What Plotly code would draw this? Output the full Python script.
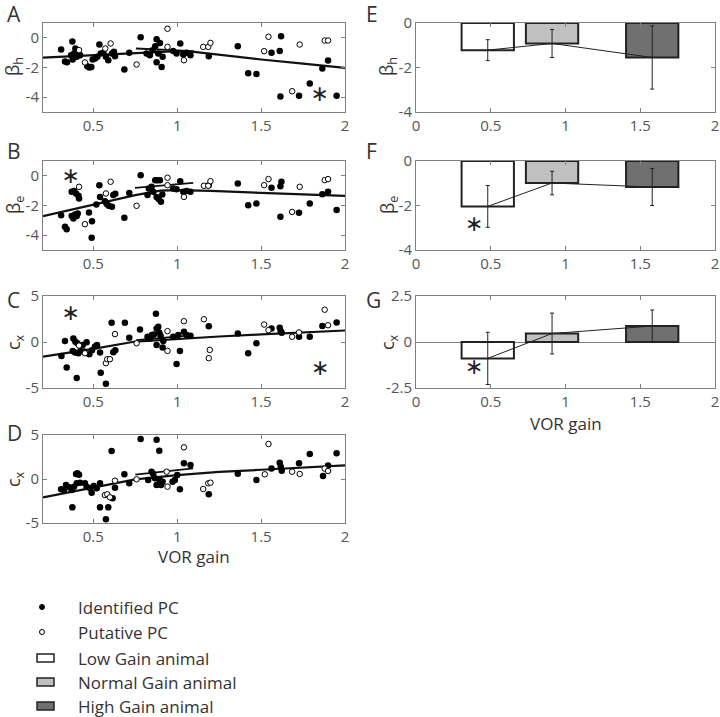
import plotly.graph_objects as go

W, H = 720, 717

# ---------------- data: panel A (beta_h) ----------------
a_id_x = [0.308, 0.331, 0.343, 0.375, 0.367, 0.377, 0.385, 0.393, 0.401, 0.411, 0.421, 0.464, 0.476, 0.488,
          0.496, 0.51, 0.524, 0.536, 0.544, 0.56, 0.575, 0.589, 0.611, 0.623, 0.629, 0.685, 0.714, 0.782,
          0.817, 0.837, 0.853, 0.869, 0.877, 0.887, 0.877, 0.897, 0.907, 0.913, 0.976, 0.996, 1.018, 1.036,
          1.056, 1.079, 1.188, 1.361, 1.423, 1.472, 1.562, 1.611, 1.619, 1.615, 1.726, 1.79, 1.865, 1.899, 1.95]
a_id_y = [-0.79, -1.6, -1.64, -0.25, -1.17, -1.46, -1.06, -0.72, -1.28, -0.94, -1.17, -1.91, -2.0, -1.96,
          -1.46, -1.39, -1.28, -0.45, -1.06, -1.01, -1.28, -1.51, -1.06, -0.94, -1.24, -2.13, -1.01, 0.04,
          -1.06, -1.17, -0.83, -0.56, -0.09, -1.06, -1.64, -0.34, -1.96, -1.28, -0.88, -1.06, -0.38, -1.12,
          -1.01, -1.17, -1.24, -0.56, -2.38, -2.43, -1.01, -0.88, 0.11, -3.96, -3.91, -3.08, -2.07, -1.53, -3.91]
a_pu_x = [0.415, 0.45, 0.571, 0.603, 0.758, 0.942, 0.942, 1.04, 1.155, 1.185, 1.198, 1.518, 1.544, 1.685,
          1.73, 1.879, 1.899]
a_pu_y = [-0.83, -1.66, -0.72, -0.38, -1.8, 0.61, -0.61, -1.51, -0.61, -0.61, -0.34, -0.9, 0.07, -3.6,
          -0.45, -0.18, -0.18]
a_star_x = [1.849]
a_star_y = [-3.87]
a_fit_x = [0.2, 0.5, 0.75, 1.0, 1.1, 1.25, 1.5, 1.75, 2.0]
a_fit_y = [-1.33, -1.17, -1.02, -0.9, -0.95, -1.15, -1.46, -1.74, -2.02]
a_seg_x = [0.754, 1.099]
a_seg_y = [-0.72, -0.9]

# ---------------- data: panel B (beta_e) ----------------
b_id_x = [0.308, 0.331, 0.341, 0.371, 0.385, 0.397, 0.411, 0.415, 0.371, 0.381, 0.391, 0.401, 0.407, 0.474,
          0.492, 0.49, 0.518, 0.536, 0.54, 0.569, 0.579, 0.591, 0.611, 0.619, 0.631, 0.685, 0.714, 0.782,
          0.823, 0.831, 0.847, 0.857, 0.869, 0.881, 0.897, 0.877, 0.889, 0.903, 0.911, 0.976, 0.996, 1.018,
          1.036, 1.056, 1.079, 1.188, 1.361, 1.423, 1.472, 1.562, 1.615, 1.621, 1.615, 1.726, 1.79, 1.865,
          1.899, 1.95]
b_id_y = [-2.65, -3.44, -3.6, -1.08, -1.03, -1.19, -1.35, -1.53, -2.7, -2.88, -2.61, -2.7, -2.54, -2.47,
          -3.06, -4.18, -1.93, -0.63, -1.42, -1.71, -1.89, -2.02, -2.09, -1.3, -1.21, -2.83, -1.15, 0.04,
          -1.3, -0.85, -0.74, -1.08, -0.29, -0.29, -0.29, -1.42, -1.57, -1.75, -1.26, -0.85, -0.9, -0.36,
          -1.08, -1.03, -1.08, -0.63, -0.52, -1.98, -1.87, -0.81, -0.7, -0.4, -2.76, -2.49, -1.87, -1.24,
          -1.08, -2.31]
b_pu_x = [0.415, 0.45, 0.575, 0.603, 0.758, 0.942, 0.942, 1.04, 1.159, 1.185, 1.198, 1.518, 1.544, 1.685,
          1.73, 1.879, 1.899]
b_pu_y = [-0.74, -3.26, -1.19, -0.4, -2.02, -0.13, -0.63, -1.42, -0.67, -0.67, -0.36, -0.63, -0.22, -2.43,
          -0.74, -0.29, -0.22]
b_star_x = [0.365]
b_star_y = [-0.13]
b_fit_x = [0.2, 0.5, 0.75, 0.9, 1.0, 1.2, 1.5, 1.75, 2.0]
b_fit_y = [-2.72, -1.93, -1.3, -1.0, -0.97, -1.02, -1.13, -1.24, -1.35]
b_seg_x = [0.748, 1.095]
b_seg_y = [-0.81, -0.47]

# ---------------- data: panel C (c_x) ----------------
c_id_x = [0.31, 0.331, 0.341, 0.381, 0.393, 0.405, 0.377, 0.391, 0.411, 0.423, 0.437, 0.444, 0.46, 0.476,
          0.492, 0.51, 0.522, 0.54, 0.544, 0.401, 0.575, 0.609, 0.619, 0.631, 0.688, 0.714, 0.778, 0.823,
          0.837, 0.849, 0.861, 0.873, 0.877, 0.887, 0.893, 0.901, 0.877, 0.913, 0.917, 0.976, 0.996, 1.006,
          1.016, 1.04, 1.056, 1.079, 1.188, 1.361, 1.423, 1.472, 1.562, 1.611, 1.617, 1.623, 1.726, 1.79,
          1.865, 1.95]
c_id_y = [-1.51, 0.11, -2.76, 0.39, 0.04, -0.14, -0.97, -1.15, -1.22, -0.97, -0.32, -1.04, -0.04, -1.33,
          -0.9, -0.5, -0.32, -1.15, -3.33, -3.91, -4.55, 2.08, -1.11, -0.9, 2.08, 0.47, 1.37, 0.57,
          0.39, 0.75, 0.82, 3.08, 1.47, 1.65, 1.04, 0.68, -0.32, -0.61, 0.11, 0.57, -2.4, 0.75,
          -0.97, 1.11, 0.75, 0.68, 1.72, 0.93, -1.22, -0.14, 1.47, 1.54, 1.18, 1.0, 0.57, 0.57,
          1.75, 2.11]
c_pu_x = [0.415, 0.45, 0.575, 0.583, 0.599, 0.629, 0.758, 0.942, 0.942, 1.04, 1.159, 1.194, 1.188, 1.518,
          1.544, 1.685, 1.726, 1.879, 1.899]
c_pu_y = [-0.39, -1.22, -2.3, -1.87, -1.87, 0.86, -0.14, 1.18, -0.97, 2.26, 2.47, -0.86, -1.76, 1.9,
          1.29, 0.57, 1.04, 3.51, 1.82]
c_star_x = [0.365, 1.853]
c_star_y = [3.01, -3.01]
c_fit_x = [0.2, 0.5, 0.75, 1.0, 1.25, 1.5, 1.75, 2.0]
c_fit_y = [-1.6, -0.75, 0.05, 0.35, 0.6, 0.82, 1.04, 1.25]
c_seg_x = [0.755, 1.08]
c_seg_y = [0.2, 0.72]

# ---------------- data: panel D (c_x) ----------------
d_id_x = [0.308, 0.325, 0.337, 0.357, 0.371, 0.385, 0.397, 0.405, 0.415, 0.401, 0.421, 0.45, 0.46, 0.48,
          0.49, 0.502, 0.52, 0.54, 0.375, 0.54, 0.589, 0.575, 0.609, 0.615, 0.629, 0.685, 0.714, 0.782,
          0.877, 0.893, 0.827, 0.847, 0.857, 0.867, 0.877, 0.893, 0.903, 0.913, 0.972, 0.986, 1.0, 1.016,
          1.04, 1.079, 1.188, 1.361, 1.472, 1.562, 1.611, 1.617, 1.623, 1.726, 1.79, 1.869, 1.899, 1.95]
d_id_y = [-1.17, -1.25, -0.68, -0.95, -1.25, -0.87, 0.57, 0.64, 0.49, -0.49, -0.42, -0.49, -0.87, -1.06,
          -1.55, -0.8, -1.06, -0.49, -3.22, -3.22, -3.22, -4.58, 3.18, -2.2, -0.99, 0.53, -0.49, 4.55,
          4.47, 3.22, -0.11, 0.83, 0.57, 0.08, -0.68, -0.04, -0.68, -0.3, -0.3, -0.11, 0.45, -1.17,
          1.78, 1.59, -1.74, 0.61, -0.11, 1.18, 1.86, 1.4, 0.95, 1.78, 2.84, 0.34, 1.52, 2.92]
d_pu_x = [0.569, 0.583, 0.599, 0.629, 0.758, 0.937, 0.942, 1.04, 1.155, 1.185, 1.198, 1.522, 1.544, 1.685,
          1.73, 1.879, 1.899]
d_pu_y = [-1.82, -1.74, -2.08, -0.19, -0.04, 0.83, -0.87, 3.6, -1.14, -0.49, -0.42, 0.53, 3.98, 0.83,
          0.57, 1.18, 0.91]
d_fit_x = [0.2, 0.5, 0.75, 1.0, 1.25, 1.5, 1.75, 2.0]
d_fit_y = [-2.08, -0.95, -0.05, 0.45, 0.8, 1.05, 1.3, 1.55]
d_seg_x = [0.75, 1.095]
d_seg_y = [0.49, 1.21]

# ---------------- data: bar panels E, F, G ----------------
groups = ["Low Gain animal", "Normal Gain animal", "High Gain animal"]
group_gain = [0.48, 0.91, 1.58]
bar_colors = ["#ffffff", "#c0c0c0", "#707070"]
e_mean = [-1.22, -0.92, -1.55]
e_err = [0.47, 0.63, 1.42]
f_mean = [-2.04, -0.99, -1.17]
f_err = [0.94, 0.53, 0.83]
g_mean = [-0.89, 0.46, 0.87]
g_err = [1.42, 1.11, 0.87]
f_star_x = [0.39]
f_star_y = [-2.89]
g_star_x = [0.39]
g_star_y = [-1.44]

# ---------------- layout geometry (pixels) ----------------
def fx(p):
    return p / W

def fy(p):
    return 1 - p / H

LEFT = [fx(43), fx(345)]
RIGHT = [fx(416), fx(715)]
ROWS = {"A": (23, 112), "B": (161, 250), "C": (296, 388), "D": (435, 523)}

FONT = "Open Sans"
AX_COL = "#808080"
TICK_FONT = dict(family=FONT, size=15, color="#555555")
STAR_FONT = dict(family="DejaVu Sans", size=22, color="#222222")


def ax_style(**kw):
    d = dict(showline=True, linecolor=AX_COL, linewidth=1, mirror="ticks", ticks="inside",
             ticklen=4, tickcolor=AX_COL, showgrid=False, zeroline=False, tickfont=TICK_FONT,
             automargin=False, fixedrange=True)
    d.update(kw)
    return d


fig = go.Figure()


def add_scatter_panel(n, idx, idy, pux, puy, fitx, fity, segx, segy, starx=None, stary=None):
    xa = "x" if n == 1 else f"x{n}"
    ya = "y" if n == 1 else f"y{n}"
    fig.add_trace(go.Scatter(x=fitx, y=fity, mode="lines", line=dict(color="#111111", width=2.2),
                             xaxis=xa, yaxis=ya, showlegend=False, hoverinfo="skip"))
    fig.add_trace(go.Scatter(x=segx, y=segy, mode="lines", line=dict(color="#111111", width=1.8),
                             xaxis=xa, yaxis=ya, showlegend=False, hoverinfo="skip"))
    fig.add_trace(go.Scatter(x=idx, y=idy, mode="markers",
                             marker=dict(size=6.5, color="black"),
                             xaxis=xa, yaxis=ya, showlegend=False))
    fig.add_trace(go.Scatter(x=pux, y=puy, mode="markers",
                             marker=dict(size=5.5, color="white", line=dict(color="black", width=1)),
                             xaxis=xa, yaxis=ya, showlegend=False))
    if starx:
        fig.add_trace(go.Scatter(x=starx, y=stary, mode="text", text=["∗"] * len(starx),
                                 textfont=STAR_FONT, textposition="middle center",
                                 xaxis=xa, yaxis=ya, showlegend=False, hoverinfo="skip"))


add_scatter_panel(1, a_id_x, a_id_y, a_pu_x, a_pu_y, a_fit_x, a_fit_y, a_seg_x, a_seg_y, a_star_x, a_star_y)
add_scatter_panel(2, b_id_x, b_id_y, b_pu_x, b_pu_y, b_fit_x, b_fit_y, b_seg_x, b_seg_y, b_star_x, b_star_y)
add_scatter_panel(3, c_id_x, c_id_y, c_pu_x, c_pu_y, c_fit_x, c_fit_y, c_seg_x, c_seg_y, c_star_x, c_star_y)
add_scatter_panel(4, d_id_x, d_id_y, d_pu_x, d_pu_y, d_fit_x, d_fit_y, d_seg_x, d_seg_y)


def add_bar_panel(n, means, errs, starx=None, stary=None):
    xa, ya = f"x{n}", f"y{n}"
    fig.add_trace(go.Bar(x=group_gain, y=means, width=0.35,
                         marker=dict(color=bar_colors, line=dict(color="#222222", width=2)),
                         xaxis=xa, yaxis=ya, showlegend=False))
    fig.add_trace(go.Scatter(x=group_gain, y=means, mode="lines",
                             line=dict(color="#222222", width=1),
                             error_y=dict(type="data", array=errs, color="#222222", thickness=1, width=2),
                             xaxis=xa, yaxis=ya, showlegend=False))
    if starx:
        fig.add_trace(go.Scatter(x=starx, y=stary, mode="text", text=["∗"] * len(starx),
                                 textfont=STAR_FONT, textposition="middle center",
                                 xaxis=xa, yaxis=ya, showlegend=False, hoverinfo="skip"))


add_bar_panel(5, e_mean, e_err)
add_bar_panel(6, f_mean, f_err, f_star_x, f_star_y)
add_bar_panel(7, g_mean, g_err, g_star_x, g_star_y)

# ---------------- axes ----------------
left_xt = dict(tickvals=[0.5, 1, 1.5, 2], ticktext=["0.5", "1", "1.5", "2"])
right_xt = dict(tickvals=[0, 0.5, 1, 1.5, 2], ticktext=["0", "0.5", "1", "1.5", "2"])
beta_yt = dict(tickvals=[0, -2, -4], ticktext=["0", "-2", "-4"])
cx_yt = dict(tickvals=[5, 0, -5], ticktext=["5", "0", "-5"])

layout = dict(width=W, height=H, plot_bgcolor="rgba(0,0,0,0)", paper_bgcolor="white",
              margin=dict(l=0, r=0, t=0, b=0), barmode="overlay", showlegend=False)

rows_left = ["A", "B", "C", "D"]
for i, r in enumerate(rows_left, start=1):
    top, bot = ROWS[r]
    dom = [fy(bot), fy(top)]
    xk = "xaxis" if i == 1 else f"xaxis{i}"
    yk = "yaxis" if i == 1 else f"yaxis{i}"
    ya = "y" if i == 1 else f"y{i}"
    xa = "x" if i == 1 else f"x{i}"
    layout[xk] = ax_style(domain=LEFT, range=[0.2, 2], anchor=ya, **left_xt)
    if r in ("A", "B"):
        layout[yk] = ax_style(domain=dom, range=[-5, 1], anchor=xa, **beta_yt)
    else:
        layout[yk] = ax_style(domain=dom, range=[-5, 5], anchor=xa, **cx_yt)

for j, r in zip([5, 6, 7], ["A", "B", "C"]):
    top, bot = ROWS[r]
    dom = [fy(bot), fy(top)]
    layout[f"xaxis{j}"] = ax_style(domain=RIGHT, range=[0, 2], anchor=f"y{j}", **right_xt)
    if j < 7:
        layout[f"yaxis{j}"] = ax_style(domain=dom, range=[-4, 0], anchor=f"x{j}", **beta_yt)
    else:
        layout[f"yaxis{j}"] = ax_style(domain=dom, range=[-2.5, 2.5], anchor=f"x{j}",
                                       tickvals=[2.5, 0, -2.5], ticktext=["2.5", "0", "-2.5"],
                                       zeroline=True, zerolinecolor=AX_COL, zerolinewidth=1)

fig.update_layout(**layout)

# ---------------- text annotations ----------------
ann = []
TXT = "#333333"
letters = [("A", 5, 14), ("B", 5, 151), ("C", 5, 300), ("D", 5, 433),
           ("E", 364, 14), ("F", 364, 151), ("G", 364, 300)]
for t, x, y in letters:
    ann.append(dict(text=t, x=fx(x), y=fy(y), xref="paper", yref="paper", xanchor="left",
                    yanchor="middle", showarrow=False, font=dict(family=FONT, size=21, color=TXT)))

ytitles = [("β<sub>h</sub>", 14, 67), ("β<sub>e</sub>", 14, 205), ("c<sub>x</sub>", 14, 342),
           ("c<sub>x</sub>", 14, 479),
           ("β<sub>h</sub>", 388, 67), ("β<sub>e</sub>", 388, 205), ("c<sub>x</sub>", 388, 342)]
for t, x, y in ytitles:
    ann.append(dict(text=t, x=fx(x), y=fy(y), xref="paper", yref="paper", xanchor="center",
                    yanchor="middle", textangle=-90, showarrow=False,
                    font=dict(family=FONT, size=18, color=TXT)))

for x, y in [(194, 556), (566, 423)]:
    ann.append(dict(text="VOR gain", x=fx(x), y=fy(y), xref="paper", yref="paper",
                    xanchor="center", yanchor="middle", showarrow=False,
                    font=dict(family=FONT, size=17, color=TXT)))

# legend
legend_rows = [("Identified PC", 607), ("Putative PC", 632)] + list(zip(groups, [658, 682, 706]))
for t, y in legend_rows:
    ann.append(dict(text=t, x=fx(76), y=fy(y), xref="paper", yref="paper", xanchor="left",
                    yanchor="middle", showarrow=False, font=dict(family=FONT, size=17, color=TXT)))
fig.update_layout(annotations=ann)

shapes = []
shapes.append(dict(type="circle", xref="paper", yref="paper", x0=fx(39.5), x1=fx(44.5),
                   y0=fy(609.5), y1=fy(604.5), fillcolor="black", line=dict(color="black", width=1)))
shapes.append(dict(type="circle", xref="paper", yref="paper", x0=fx(39.5), x1=fx(44.5),
                   y0=fy(634.5), y1=fy(629.5), fillcolor="white", line=dict(color="black", width=1)))
for col, y in zip(bar_colors, [658, 682, 706]):
    shapes.append(dict(type="rect", xref="paper", yref="paper", x0=fx(37), x1=fx(54),
                       y0=fy(y + 4), y1=fy(y - 4), fillcolor=col,
                       line=dict(color="#222222", width=1.5)))
fig.update_layout(shapes=shapes)

fig.write_html("out.html", config={"displayModeBar": False},
               post_script="document.body.style.margin='0';document.body.style.overflow='hidden';")
